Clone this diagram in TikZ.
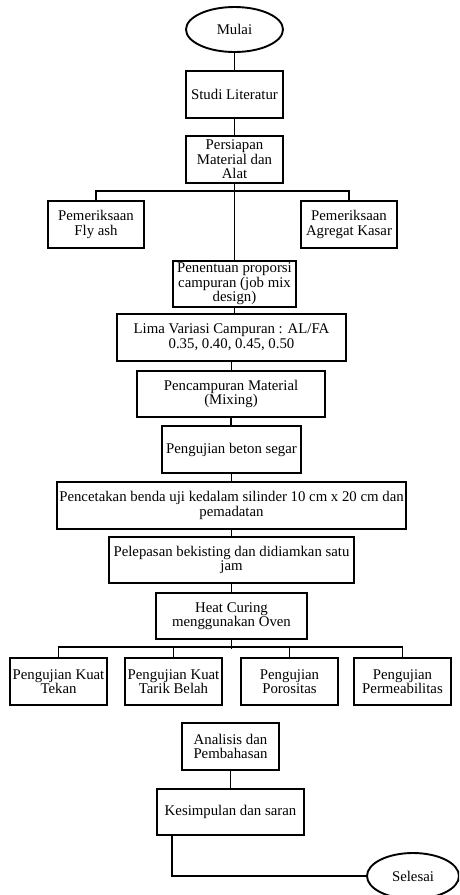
\documentclass[tikz,border=0pt]{standalone}
\usepackage{fontspec}
\setmainfont{Liberation Serif}
\usetikzlibrary{shapes.geometric}
\begin{document}
\begin{tikzpicture}[x=1pt,y=-1pt,
  every node/.style={font=\fontsize{14.8}{14.6}\selectfont, align=center, inner sep=0pt},
  box/.style={draw, line width=1.9pt, rectangle, minimum height=47pt},
  oval/.style={draw, line width=1.9pt, ellipse, minimum height=45pt},
  conn/.style={line width=1.9pt}]
\useasboundingbox (0,0) rectangle (459,895);
\clip (0,0) rectangle (459,895);
\fill[white] (0,0) rectangle (459,895);
\node[oval, minimum width=97pt] (mulai) at (234.5,29.5) {Mulai};
\node[box, minimum width=97pt] (studi) at (234.5,94.5) {Studi Literatur};
\node[box, minimum width=97pt] (persiapan) at (234.5,159.5) {Persiapan\\Material dan\\Alat};
\node[box, minimum width=96pt] (flyash) at (96,224.5) {Pemeriksaan\\Fly ash};
\node[box, minimum width=96pt] (agregat) at (349,224.5) {Pemeriksaan\\Agregat Kasar};
\node[box, minimum width=123pt, minimum height=46pt] (penentuan) at (234.5,284) {Penentuan proporsi\\campuran (job mix\\design)};
\node[box, minimum width=229pt] (lima) at (231.5,337.5) {Lima Variasi Campuran : AL/FA\\0.35, 0.40, 0.45, 0.50};
\node[box, minimum width=188pt, minimum height=46pt] (pencampuran) at (231,394) {Pencampuran Material\\(Mixing)};
\node[box, minimum width=139pt] (beton) at (231.5,449.5) {Pengujian beton segar};
\node[box, minimum width=349pt] (pencetakan) at (231.5,505.5) {Pencetakan benda uji kedalam silinder 10 cm x 20 cm dan\\pemadatan};
\node[box, minimum width=245pt, minimum height=46pt] (pelepasan) at (231.5,560) {Pelepasan bekisting dan didiamkan satu\\jam};
\node[box, minimum width=151pt, minimum height=46pt] (heat) at (231.5,616) {Heat Curing\\menggunakan Oven};
\node[box, minimum width=97pt] (tekan) at (58.5,681.5) {Pengujian Kuat\\Tekan};
\node[box, minimum width=97pt] (tarik) at (173.5,681.5) {Pengujian Kuat\\Tarik Belah};
\node[box, minimum width=97pt] (porositas) at (289.5,681.5) {Pengujian\\Porositas};
\node[box, minimum width=97pt] (permeab) at (402.5,681.5) {Pengujian\\Permeabilitas};
\node[box, minimum width=97pt] (analisis) at (230.5,746.5) {Analisis dan\\Pembahasan};
\node[box, minimum width=147pt, minimum height=46pt] (kesimpulan) at (230.5,812) {Kesimpulan dan saran};
\node[oval, minimum width=92pt, minimum height=46pt] (selesai) at (413,876) {Selesai};

\draw[conn] (mulai.south) -- (studi.north);
\draw[conn] (studi.south) -- (persiapan.north);
\draw[conn] (persiapan.south) -- (penentuan.north);
\draw[conn] (flyash.north) -- ++(0,-9) -| (agregat.north);
\draw[conn] (penentuan.south) -- (penentuan.south |- lima.north);
\draw[conn] (lima.south) -- (lima.south |- pencampuran.north);
\draw[conn] (pencampuran.south) -- (pencampuran.south |- beton.north);
\draw[conn] (beton.south) -- (beton.south |- pencetakan.north);
\draw[conn] (pencetakan.south) -- (pencetakan.south |- pelepasan.north);
\draw[conn] (pelepasan.south) -- (pelepasan.south |- heat.north);
\draw[conn] (heat.south) -- ++(0,9);
\draw[conn] (tekan.north) -- ++(0,-10) -| (permeab.north);
\draw[conn] (tarik.north) -- ++(0,-10);
\draw[conn] (porositas.north) -- ++(0,-10);
\draw[conn] (analisis.south) -- (analisis.south |- kesimpulan.north);
\draw[conn] ([xshift=-58.5pt]kesimpulan.south) |- (selesai.west);
\end{tikzpicture}
\end{document}
